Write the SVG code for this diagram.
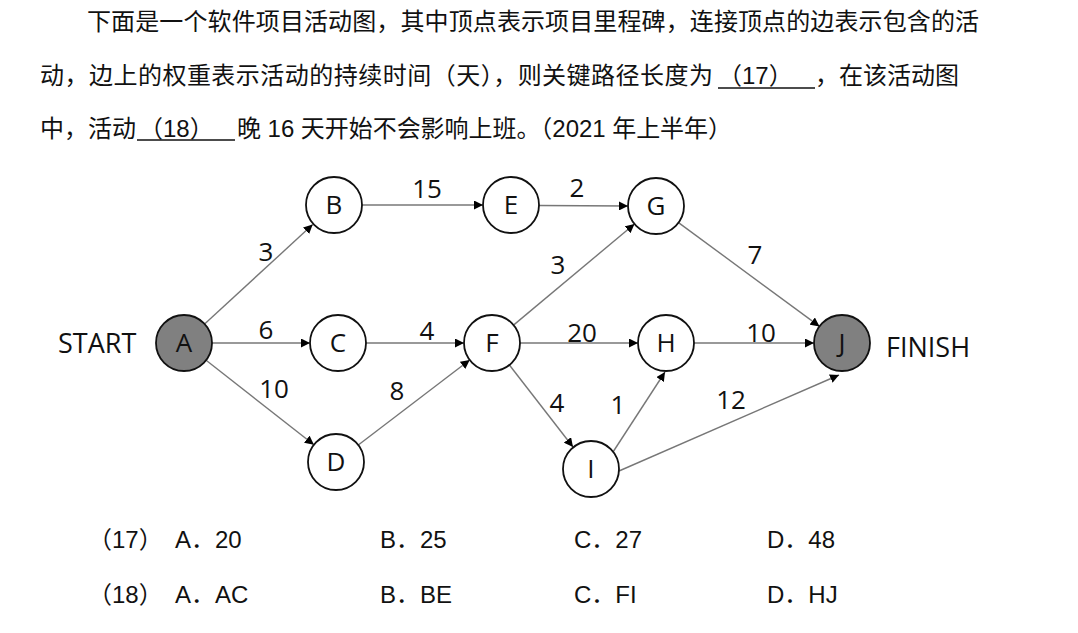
<svg xmlns="http://www.w3.org/2000/svg" width="1078" height="633" viewBox="0 0 1078 633">
<defs>
<marker id="arr" viewBox="0 0 10 10" refX="10" refY="5" markerWidth="9" markerHeight="9" markerUnits="userSpaceOnUse" orient="auto">
<path d="M0,0 L10,5 L0,10 z" fill="#000"/>
</marker>
</defs>
<style>
.q{font-family:"Liberation Sans","Noto Sans CJK SC",sans-serif;font-size:24px;fill:#111}
.n circle{fill:#fff;stroke:#111;stroke-width:1.8}
.n.s circle{fill:#808080}
.n text,.lbl{font-family:"Open Sans","Liberation Sans",sans-serif;font-size:26px;fill:#111;text-anchor:middle}
.side{font-family:"Open Sans","Liberation Sans",sans-serif;font-size:27px;fill:#111}
.e line{stroke:#777;stroke-width:1.4;marker-end:url(#arr)}
.ul{stroke:#111;stroke-width:1.5}
</style>
<rect width="1078" height="633" fill="#fff"/>
<g id="question">
<text class="q" x="87" y="30" textLength="892" lengthAdjust="spacing">下面是一个软件项目活动图，其中顶点表示项目里程碑，连接顶点的边表示包含的活</text>
<text class="q" x="40" y="84" textLength="673" lengthAdjust="spacing">动，边上的权重表示活动的持续时间（天），则关键路径长度为</text>
<text class="q" x="718" y="84">（17）</text>
<line class="ul" x1="718" y1="88" x2="815" y2="88"/>
<text class="q" x="815" y="84">，在该活动图</text>
<text class="q" x="40" y="137">中，活动</text>
<text class="q" x="139" y="137">（18）</text>
<line class="ul" x1="137" y1="140" x2="235" y2="140"/>
<text class="q" x="237" y="137" textLength="495" lengthAdjust="spacing">晚 16 天开始不会影响上班。（2021 年上半年）</text>
</g>
<g id="connectors" class="e">
<line x1="204.6" y1="324" x2="312.7" y2="224.6"/>
<line x1="212" y1="343" x2="310" y2="343"/>
<line x1="206.1" y1="360.3" x2="313.9" y2="444.7"/>
<line x1="362" y1="205" x2="483" y2="205"/>
<line x1="539" y1="205.5" x2="628" y2="206"/>
<line x1="366" y1="343" x2="464" y2="343"/>
<line x1="358.3" y1="445" x2="469.7" y2="360"/>
<line x1="513.5" y1="325.1" x2="634.5" y2="224"/>
<line x1="520" y1="343" x2="638" y2="343"/>
<line x1="509.4" y1="365" x2="573" y2="447"/>
<line x1="613" y1="452" x2="665" y2="372"/>
<line x1="678.5" y1="222.6" x2="819.5" y2="326.4"/>
<line x1="694" y1="343" x2="814" y2="343"/>
<line x1="619" y1="471" x2="839" y2="375"/>
</g>
<g id="edge-labels">
<text class="lbl" x="266" y="261">3</text>
<text class="lbl" x="427" y="198">15</text>
<text class="lbl" x="577" y="197">2</text>
<text class="lbl" x="266" y="339">6</text>
<text class="lbl" x="427" y="340">4</text>
<text class="lbl" x="274" y="398">10</text>
<text class="lbl" x="397" y="400">8</text>
<text class="lbl" x="558" y="274">3</text>
<text class="lbl" x="582" y="342">20</text>
<text class="lbl" x="755" y="264">7</text>
<text class="lbl" x="761" y="342">10</text>
<text class="lbl" x="557" y="412">4</text>
<text class="lbl" x="618" y="414">1</text>
<text class="lbl" x="731" y="409">12</text>
</g>
<text class="side" x="58" y="353">START</text>
<text class="side" x="886" y="357">FINISH</text>
<g id="node-A" class="n s"><circle cx="184" cy="343" r="28"/><text x="184" y="352">A</text></g>
<g id="node-B" class="n"><circle cx="334" cy="205" r="28"/><text x="334" y="214">B</text></g>
<g id="node-C" class="n"><circle cx="338" cy="343" r="28"/><text x="338" y="352">C</text></g>
<g id="node-D" class="n"><circle cx="336" cy="462" r="28"/><text x="336" y="471">D</text></g>
<g id="node-E" class="n"><circle cx="511" cy="205" r="28"/><text x="511" y="214">E</text></g>
<g id="node-F" class="n"><circle cx="492" cy="343" r="28"/><text x="492" y="352">F</text></g>
<g id="node-G" class="n"><circle cx="656" cy="206" r="28"/><text x="656" y="215">G</text></g>
<g id="node-H" class="n"><circle cx="666" cy="343" r="28"/><text x="666" y="352">H</text></g>
<g id="node-I" class="n"><circle cx="591" cy="469" r="28"/><text x="591" y="478">I</text></g>
<g id="node-J" class="n s"><circle cx="842" cy="343" r="28"/><text x="842" y="352">J</text></g>
<g id="options">
<text class="q" x="88" y="548">（17）</text>
<text class="q" x="175" y="548">A．20</text>
<text class="q" x="380" y="548">B．25</text>
<text class="q" x="574" y="548">C．27</text>
<text class="q" x="767" y="548">D．48</text>
<text class="q" x="88" y="603">（18）</text>
<text class="q" x="175" y="603">A．AC</text>
<text class="q" x="380" y="603">B．BE</text>
<text class="q" x="574" y="603">C．FI</text>
<text class="q" x="767" y="603">D．HJ</text>
</g>
</svg>
